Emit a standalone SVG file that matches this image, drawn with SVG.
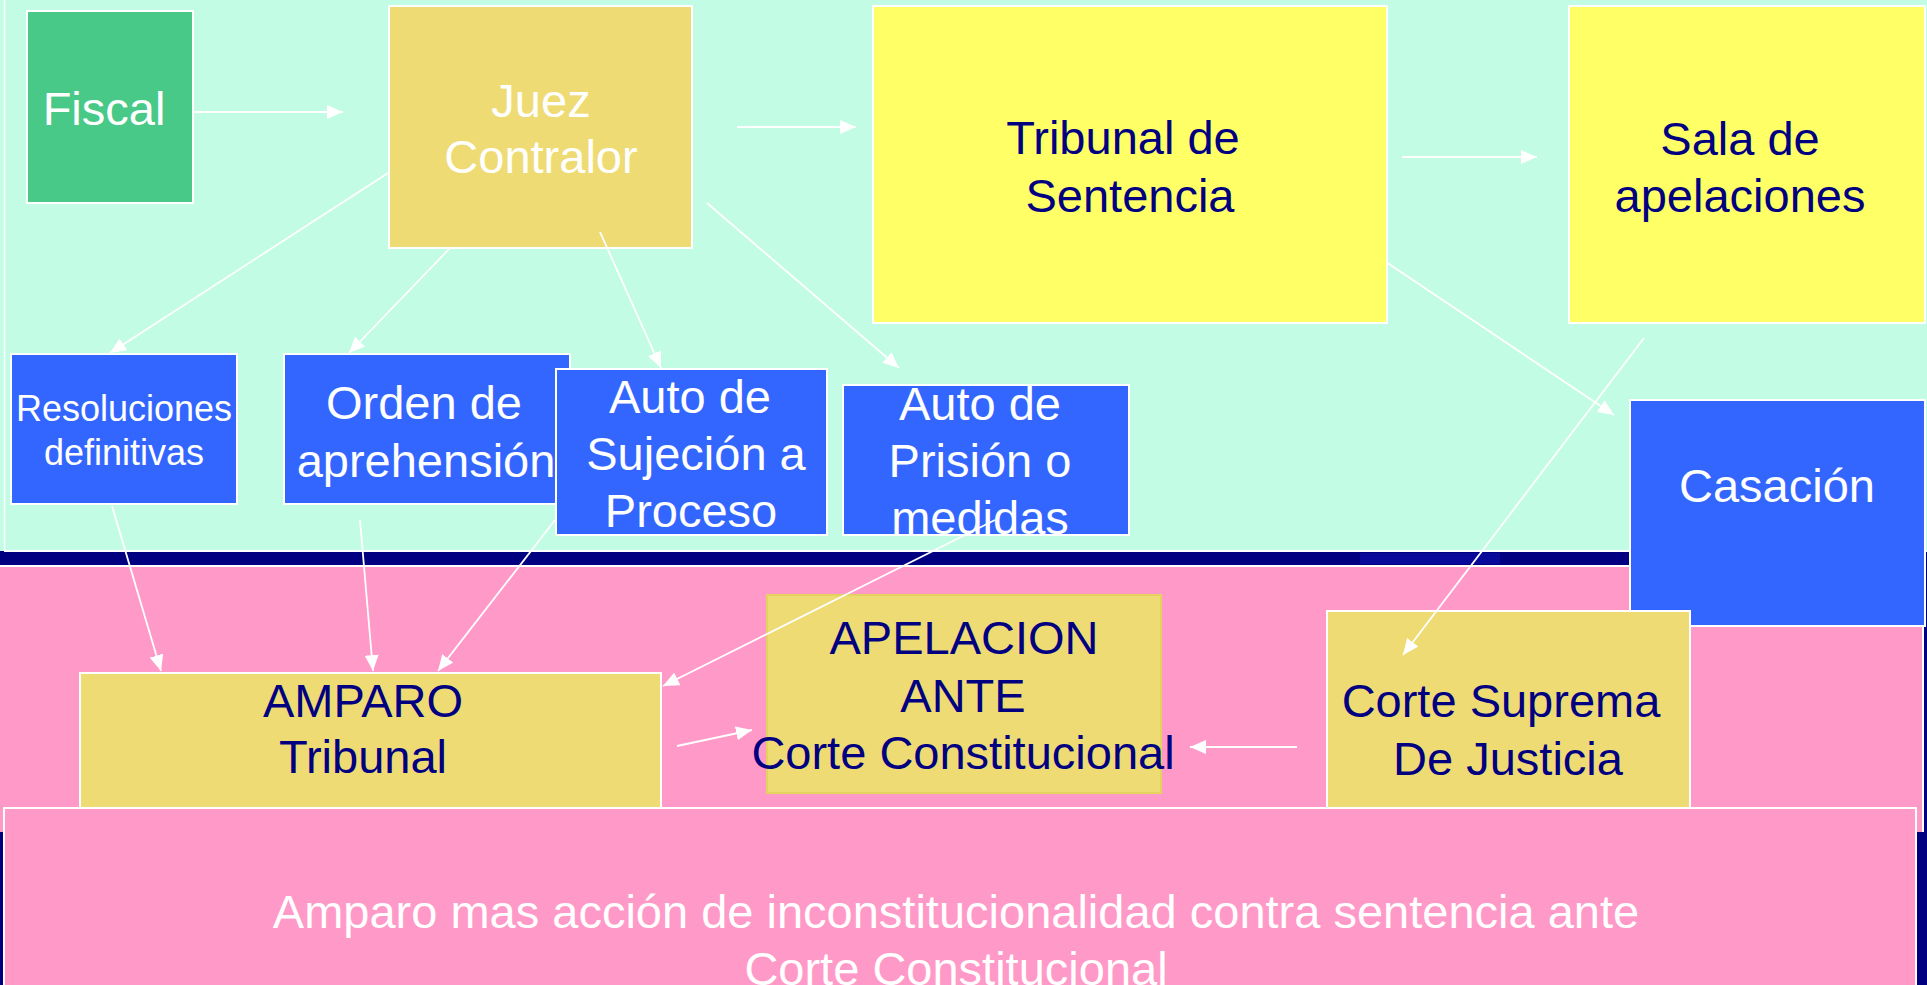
<svg xmlns="http://www.w3.org/2000/svg" width="1927" height="985" viewBox="0 0 1927 985">
<style>
text{font-family:"Liberation Sans",Arial,sans-serif;font-size:47px;text-anchor:middle}
.w{fill:#FFFFFF}
.n{fill:#000080}
.box{stroke:#FFFFFF;stroke-width:2}
.green{fill:#48C987}
.gold{fill:#EFDB74}
.yel{fill:#FFFF66}
.blue{fill:#3366FF}
.conn line{stroke:#FFFFFF;stroke-width:1.8;marker-end:url(#ah)}
</style>
<defs>
<marker id="ah" markerUnits="userSpaceOnUse" markerWidth="16" markerHeight="14" refX="16" refY="7" orient="auto">
<path d="M0,0 L16,7 L0,14 z" fill="#FFFFFF"/>
</marker>
<clipPath id="clipPrision"><rect x="843" y="385" width="286" height="150"/></clipPath>
</defs>
<g id="background">
<rect x="0" y="0" width="1927" height="985" fill="#000080"/>
<rect x="0" y="0" width="1927" height="551" fill="#C2FCE5"/>
<line x1="4.5" y1="0" x2="4.5" y2="551" stroke="#FFFFFF" stroke-width="1.5"/>
<line x1="4" y1="551" x2="1927" y2="551" stroke="#FFFFFF" stroke-width="2"/>
<rect x="1360" y="553" width="140" height="11" fill="#0A0A9A"/>
<rect x="0" y="566" width="1923" height="266" fill="#FF99C8"/>
<path d="M0,566 H1923 V832" fill="none" stroke="#FFFFFF" stroke-width="2"/>
</g>
<g id="fiscal">
<rect class="box green" x="27" y="11" width="166" height="192"/>
<text class="w" x="104" y="125">Fiscal</text>
</g>
<g id="juez">
<rect class="box gold" x="389" y="6" width="303" height="242"/>
<text class="w" x="541" y="117">Juez</text>
<text class="w" x="541" y="173">Contralor</text>
</g>
<g id="tribunal-sentencia">
<rect class="box yel" x="873" y="6" width="514" height="317"/>
<text class="n" x="1123" y="154">Tribunal de</text>
<text class="n" x="1130" y="212">Sentencia</text>
</g>
<g id="sala-apelaciones">
<rect class="box yel" x="1569" y="6" width="356" height="317"/>
<text class="n" x="1740" y="155">Sala de</text>
<text class="n" x="1740" y="212">apelaciones</text>
</g>
<g id="casacion">
<rect class="box blue" x="1630" y="400" width="295" height="226"/>
<text class="w" x="1777" y="502">Casación</text>
</g>
<g id="resoluciones">
<rect class="box blue" x="11" y="354" width="226" height="150"/>
<text class="w" x="124" y="421" style="font-size:36px">Resoluciones</text>
<text class="w" x="124" y="465" style="font-size:36px">definitivas</text>
</g>
<g id="orden">
<rect class="box blue" x="284" y="354" width="286" height="150"/>
<text class="w" x="424" y="419">Orden de</text>
<text class="w" x="426" y="477">aprehensión</text>
</g>
<g id="sujecion">
<rect class="box blue" x="556" y="369" width="271" height="166"/>
<text class="w" x="690" y="413">Auto de</text>
<text class="w" x="696" y="470">Sujeción a</text>
<text class="w" x="691" y="527">Proceso</text>
</g>
<g id="prision">
<rect class="box blue" x="843" y="385" width="286" height="150"/>
<g clip-path="url(#clipPrision)">
<text class="w" x="980" y="420">Auto de</text>
<text class="w" x="980" y="477">Prisión o</text>
<text class="w" x="980" y="534">medidas</text>
</g>
</g>
<g id="amparo">
<rect class="box gold" x="80" y="673" width="581" height="150"/>
<text class="n" x="363" y="717">AMPARO</text>
<text class="n" x="363" y="773">Tribunal</text>
</g>
<g id="apelacion">
<rect x="767" y="595" width="394" height="198" fill="#EFDB74" stroke="#E3D25E" stroke-width="2"/>
<text class="n" x="964" y="654">APELACION</text>
<text class="n" x="963" y="712">ANTE</text>
<text class="n" x="963" y="769">Corte Constitucional</text>
</g>
<g id="corte-suprema">
<rect class="box gold" x="1327" y="611" width="363" height="210"/>
<text class="n" x="1501" y="717">Corte Suprema</text>
<text class="n" x="1508" y="775">De Justicia</text>
</g>
<g id="amparo-inconstitucionalidad">
<rect class="box" x="4" y="808" width="1912" height="190" fill="#FF99C8"/>
<text class="w" x="956" y="928">Amparo mas acción de inconstitucionalidad contra sentencia ante</text>
<text class="w" x="956" y="985">Corte Constitucional</text>
</g>
<g id="connectors" class="conn">
<line x1="193" y1="112" x2="343" y2="112"/>
<line x1="737" y1="127" x2="856" y2="127"/>
<line x1="1402" y1="157" x2="1537" y2="157"/>
<line x1="388" y1="173" x2="110" y2="353"/>
<line x1="450" y1="248" x2="349" y2="353"/>
<line x1="600" y1="232" x2="661" y2="368"/>
<line x1="707" y1="203" x2="899" y2="368"/>
<line x1="1386" y1="262" x2="1614" y2="415"/>
<line x1="1644" y1="338" x2="1403" y2="655"/>
<line x1="112" y1="506" x2="161" y2="671"/>
<line x1="360" y1="520" x2="373" y2="671"/>
<line x1="555" y1="520" x2="438" y2="671"/>
<line x1="995" y1="520" x2="663" y2="686"/>
<line x1="677" y1="746" x2="752" y2="730"/>
<line x1="1297" y1="747" x2="1190" y2="747"/>
</g>
</svg>
